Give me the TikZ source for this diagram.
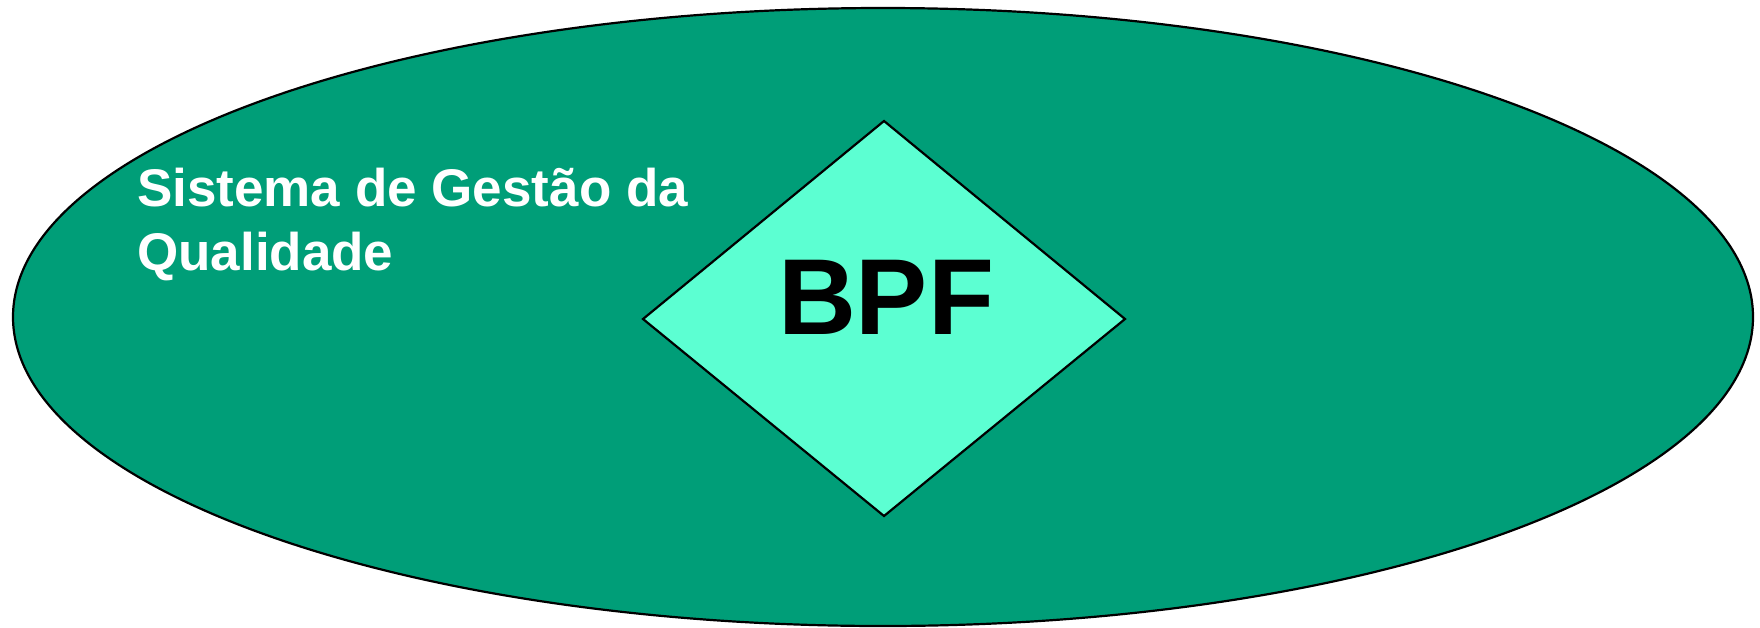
\documentclass[tikz,border=0pt]{standalone}
\usepackage{fontspec}
\setmainfont{Liberation Sans}
\usetikzlibrary{shapes.geometric}
\definecolor{outergreen}{RGB}{0,158,120}
\definecolor{innermint}{RGB}{92,255,210}
\tikzset{
  outerell/.style={draw=black, line width=2.2pt, fill=outergreen},
  bpfdiamond/.style={draw=black, line width=2.2pt, fill=innermint},
  titletext/.style={text=white, font=\bfseries\fontsize{53}{60}\selectfont, inner sep=0pt, anchor=base west},
  bpftext/.style={text=black, font=\bfseries\fontsize{108}{110}\selectfont, inner sep=0pt, anchor=base}
}
\begin{document}
\begin{tikzpicture}[x=1pt, y=-1pt]
\useasboundingbox (0,0) rectangle (1760,627);
\draw[outerell] (883,317) ellipse [x radius=870, y radius=309];
\coordinate (dt) at (884,121);
\coordinate (dl) at (643,319);
\coordinate (db) at (884,516);
\coordinate (dr) at (1125,319);
\draw[bpfdiamond] (dt) -- (dr) -- (db) -- (dl) -- cycle;
\node[titletext] (t1) at (137,206) {Sistema de Gestão da};
\node[titletext] (t2) at (137,270) {Qualidade};
\node[bpftext] (bpf) at (886,334) {BPF};
\end{tikzpicture}
\end{document}
